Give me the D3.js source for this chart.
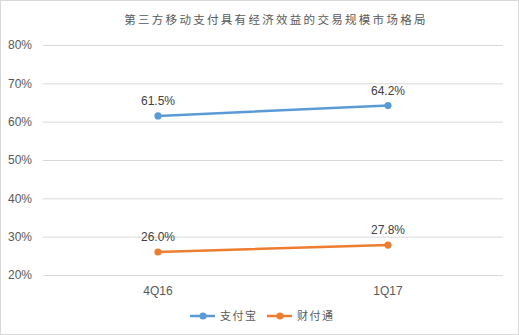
<!DOCTYPE html>
<html>
<head>
<meta charset="utf-8">
<script src="https://cdn.jsdelivr.net/npm/d3@7"></script>
<style>
  body { margin: 0; background: #fff; }
  text { font-family: "Liberation Sans", Arial, sans-serif; }
</style>
</head>
<body>
<div id="chart"></div>
<script>
// Data
const categories = ["4Q16", "1Q17"];
const seriesNames = ["支付宝", "财付通"];
const alipay = [61.5, 64.2];
const tenpay = [26.0, 27.8];
const yTicks = [20, 30, 40, 50, 60, 70, 80];
const colors = ["#5B9BD5", "#ED7D31"];

const W = 519, H = 335;
const margin = { top: 45, right: 16, bottom: 60, left: 43 };
const innerW = W - margin.left - margin.right;
const innerH = H - margin.top - margin.bottom;

const svg = d3.select("#chart").append("svg")
    .attr("width", W)
    .attr("height", H);

// outer frame
svg.append("rect")
    .attr("x", 0.5).attr("y", 0.5)
    .attr("width", W - 1).attr("height", H - 1)
    .attr("fill", "#fff")
    .attr("stroke", "#d9d9d9");

// title
svg.append("text")
    .attr("x", 276)
    .attr("y", 24)
    .attr("text-anchor", "middle")
    .style("font-family", "'Noto Sans CJK SC', sans-serif")
    .style("font-size", "11.5px")
    .style("letter-spacing", "2.3px")
    .style("fill", "#595959")
    .text("第三方移动支付具有经济效益的交易规模市场格局");

const g = svg.append("g")
    .attr("transform", `translate(${margin.left},${margin.top})`);

const x = d3.scalePoint()
    .domain(categories)
    .range([0, innerW])
    .padding(0.5);

const y = d3.scaleLinear()
    .domain([20, 80])
    .range([innerH, 0]);

// gridlines
g.selectAll(".grid")
    .data(yTicks)
    .enter()
    .append("line")
    .attr("class", "grid")
    .attr("x1", 0)
    .attr("x2", innerW)
    .attr("y1", d => y(d) + 0.5)
    .attr("y2", d => y(d) + 0.5)
    .attr("stroke", "#d9d9d9")
    .attr("stroke-width", 1);

// y labels
g.selectAll(".y-labels")
    .data(yTicks)
    .enter()
    .append("text")
    .attr("class", "y-labels")
    .attr("x", -11)
    .attr("y", d => y(d))
    .attr("dy", "0.35em")
    .attr("text-anchor", "end")
    .style("font-size", "12px")
    .style("fill", "#595959")
    .text(d => d + "%");

// x labels
g.selectAll(".x-labels")
    .data(categories)
    .enter()
    .append("text")
    .attr("class", "x-labels")
    .attr("x", d => x(d))
    .attr("y", innerH + 20)
    .attr("text-anchor", "middle")
    .style("font-size", "12px")
    .style("fill", "#595959")
    .text(d => d);

const series = [alipay, tenpay].map((vals, i) => ({
    name: seriesNames[i],
    color: colors[i],
    values: vals.map((v, j) => ({ cat: categories[j], value: v }))
}));

const line = d3.line()
    .x(d => x(d.cat))
    .y(d => y(d.value));

const sg = g.selectAll(".series")
    .data(series)
    .enter()
    .append("g")
    .attr("class", "series");

sg.append("path")
    .attr("d", d => line(d.values))
    .attr("fill", "none")
    .attr("stroke", d => d.color)
    .attr("stroke-width", 2.5)
    .attr("stroke-linecap", "round");

sg.selectAll("circle")
    .data(d => d.values.map(v => ({ ...v, color: d.color })))
    .enter()
    .append("circle")
    .attr("cx", d => x(d.cat))
    .attr("cy", d => y(d.value))
    .attr("r", 3.6)
    .attr("fill", d => d.color);

sg.selectAll(".val")
    .data(d => d.values)
    .enter()
    .append("text")
    .attr("class", "val")
    .attr("x", d => x(d.cat))
    .attr("y", d => y(d.value) - 11)
    .attr("text-anchor", "middle")
    .style("font-size", "12px")
    .style("fill", "#404040")
    .text(d => d.value.toFixed(1) + "%");

// legend
const legend = svg.selectAll(".legend")
    .data(series)
    .enter()
    .append("g")
    .attr("class", "legend")
    .attr("transform", (d, i) => `translate(${190 + i * 77},316)`);

legend.append("line")
    .attr("x1", 0).attr("x2", 25)
    .attr("y1", 0).attr("y2", 0)
    .attr("stroke", d => d.color)
    .attr("stroke-width", 2.5);

legend.append("circle")
    .attr("cx", 13).attr("cy", 0)
    .attr("r", 3.6)
    .attr("fill", d => d.color);

legend.append("text")
    .attr("x", 30)
    .attr("y", 0)
    .attr("dy", "0.35em")
    .style("font-family", "'Noto Sans CJK SC', sans-serif")
    .style("font-size", "11px")
    .style("letter-spacing", "1.5px")
    .style("fill", "#595959")
    .text(d => d.name);
</script>
</body>
</html>
